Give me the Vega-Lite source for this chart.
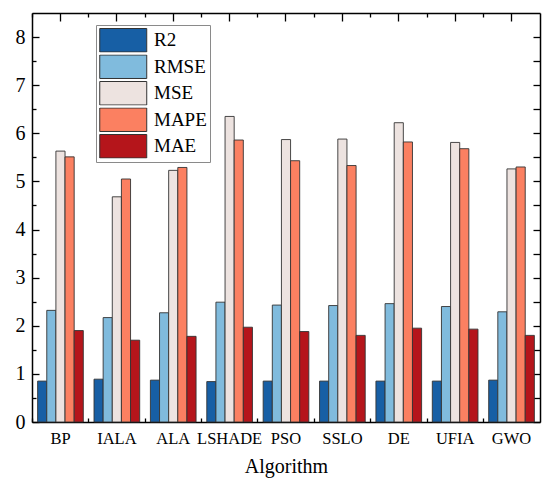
{
  "$schema": "https://vega.github.io/schema/vega-lite/v6.json",
  "width": 508,
  "height": 409,
  "autosize": {"type": "none"},
  "padding": {"left": 32, "top": 13, "right": 10, "bottom": 73},
  "background": "white",
  "config": {
    "view": {"stroke": null},
    "font": "Liberation Serif, serif",
    "axis": {"labelFont": "Liberation Serif, serif", "titleFont": "Liberation Serif, serif", "labelColor": "black", "titleColor": "black", "domainColor": "black", "tickColor": "black", "domainWidth": 1.5, "tickWidth": 1.3, "grid": false},
    "legend": {"labelFont": "Liberation Serif, serif"}
  },
  "data": {
    "values": [
      {"Algorithm": "BP", "Metric": "R2", "Value": 0.85},
      {"Algorithm": "BP", "Metric": "RMSE", "Value": 2.32},
      {"Algorithm": "BP", "Metric": "MSE", "Value": 5.63},
      {"Algorithm": "BP", "Metric": "MAPE", "Value": 5.51},
      {"Algorithm": "BP", "Metric": "MAE", "Value": 1.9},
      {"Algorithm": "IALA", "Metric": "R2", "Value": 0.89},
      {"Algorithm": "IALA", "Metric": "RMSE", "Value": 2.17},
      {"Algorithm": "IALA", "Metric": "MSE", "Value": 4.68},
      {"Algorithm": "IALA", "Metric": "MAPE", "Value": 5.05},
      {"Algorithm": "IALA", "Metric": "MAE", "Value": 1.7},
      {"Algorithm": "ALA", "Metric": "R2", "Value": 0.87},
      {"Algorithm": "ALA", "Metric": "RMSE", "Value": 2.27},
      {"Algorithm": "ALA", "Metric": "MSE", "Value": 5.23},
      {"Algorithm": "ALA", "Metric": "MAPE", "Value": 5.29},
      {"Algorithm": "ALA", "Metric": "MAE", "Value": 1.78},
      {"Algorithm": "LSHADE", "Metric": "R2", "Value": 0.84},
      {"Algorithm": "LSHADE", "Metric": "RMSE", "Value": 2.49},
      {"Algorithm": "LSHADE", "Metric": "MSE", "Value": 6.35},
      {"Algorithm": "LSHADE", "Metric": "MAPE", "Value": 5.86},
      {"Algorithm": "LSHADE", "Metric": "MAE", "Value": 1.97},
      {"Algorithm": "PSO", "Metric": "R2", "Value": 0.85},
      {"Algorithm": "PSO", "Metric": "RMSE", "Value": 2.43},
      {"Algorithm": "PSO", "Metric": "MSE", "Value": 5.87},
      {"Algorithm": "PSO", "Metric": "MAPE", "Value": 5.43},
      {"Algorithm": "PSO", "Metric": "MAE", "Value": 1.88},
      {"Algorithm": "SSLO", "Metric": "R2", "Value": 0.85},
      {"Algorithm": "SSLO", "Metric": "RMSE", "Value": 2.42},
      {"Algorithm": "SSLO", "Metric": "MSE", "Value": 5.88},
      {"Algorithm": "SSLO", "Metric": "MAPE", "Value": 5.33},
      {"Algorithm": "SSLO", "Metric": "MAE", "Value": 1.8},
      {"Algorithm": "DE", "Metric": "R2", "Value": 0.85},
      {"Algorithm": "DE", "Metric": "RMSE", "Value": 2.46},
      {"Algorithm": "DE", "Metric": "MSE", "Value": 6.22},
      {"Algorithm": "DE", "Metric": "MAPE", "Value": 5.82},
      {"Algorithm": "DE", "Metric": "MAE", "Value": 1.95},
      {"Algorithm": "UFIA", "Metric": "R2", "Value": 0.85},
      {"Algorithm": "UFIA", "Metric": "RMSE", "Value": 2.4},
      {"Algorithm": "UFIA", "Metric": "MSE", "Value": 5.81},
      {"Algorithm": "UFIA", "Metric": "MAPE", "Value": 5.68},
      {"Algorithm": "UFIA", "Metric": "MAE", "Value": 1.93},
      {"Algorithm": "GWO", "Metric": "R2", "Value": 0.87},
      {"Algorithm": "GWO", "Metric": "RMSE", "Value": 2.29},
      {"Algorithm": "GWO", "Metric": "MSE", "Value": 5.26},
      {"Algorithm": "GWO", "Metric": "MAPE", "Value": 5.3},
      {"Algorithm": "GWO", "Metric": "MAE", "Value": 1.8}
    ]
  },
  "layer": [
    {
      "mark": {"type": "bar", "stroke": "#333333", "strokeWidth": 0.9},
      "encoding": {
        "x": {
          "field": "Algorithm", "type": "nominal", "sort": null,
          "scale": {"paddingInner": 0.19, "paddingOuter": 0.1},
          "axis": {"orient": "bottom", "title": "Algorithm", "labelAngle": 0, "labelFontSize": 16.5, "titleFontSize": 20, "titleFontWeight": "normal", "tickSize": -8, "labelPadding": 16, "titlePadding": 10}
        },
        "xOffset": {"field": "Metric", "type": "nominal", "sort": ["R2", "RMSE", "MSE", "MAPE", "MAE"], "scale": {"paddingInner": 0, "paddingOuter": 0}},
        "y": {
          "field": "Value", "type": "quantitative",
          "scale": {"domain": [0, 8.5], "nice": false, "zero": true},
          "axis": {"orient": "left", "title": null, "values": [0, 0.5, 1, 1.5, 2, 2.5, 3, 3.5, 4, 4.5, 5, 5.5, 6, 6.5, 7, 7.5, 8], "labelExpr": "datum.value % 1 === 0 ? format(datum.value, 'd') : ''", "labelFontSize": 20, "tickSize": {"condition": {"test": "datum.value % 1 !== 0", "value": -4}, "value": -7}, "labelPadding": 14}
        },
        "color": {
          "field": "Metric", "type": "nominal", "sort": ["R2", "RMSE", "MSE", "MAPE", "MAE"],
          "scale": {"domain": ["R2", "RMSE", "MSE", "MAPE", "MAE"], "range": ["#175fa5", "#80bbdd", "#ede3e0", "#fb8061", "#b5151b"]},
          "legend": {
            "title": null, "orient": "none", "legendX": 64, "legendY": 12,
            "fillColor": "white", "strokeColor": "#8a8a8a", "padding": 3,
            "labelFontSize": 19, "labelColor": "black",
            "symbolType": "M-1,-1H3V1H-1Z", "symbolSize": 552, "symbolStrokeColor": "#333333", "symbolStrokeWidth": 1, "symbolOpacity": 1,
            "labelOffset": 30, "rowPadding": 1.5, "clipHeight": 24.5
          }
        }
      }
    },
    {
      "mark": {"type": "bar", "opacity": 0},
      "encoding": {
        "x": {"field": "Algorithm", "type": "nominal", "sort": null, "axis": {"orient": "top", "title": null, "labels": false, "tickSize": -8}},
        "xOffset": {"field": "Metric", "type": "nominal", "sort": ["R2", "RMSE", "MSE", "MAPE", "MAE"]},
        "y": {"field": "Value", "type": "quantitative", "axis": {"orient": "right", "title": null, "labels": false, "values": [0, 0.5, 1, 1.5, 2, 2.5, 3, 3.5, 4, 4.5, 5, 5.5, 6, 6.5, 7, 7.5, 8], "tickSize": -7}}
      }
    },
    {
      "mark": {"type": "bar", "opacity": 0},
      "encoding": {
        "x": {"field": "Algorithm", "type": "nominal", "sort": null, "axis": {"orient": "bottom", "title": null, "labels": false, "domain": false, "tickSize": -4, "bandPosition": -0.115}},
        "xOffset": {"field": "Metric", "type": "nominal", "sort": ["R2", "RMSE", "MSE", "MAPE", "MAE"]},
        "y": {"field": "Value", "type": "quantitative", "axis": null}
      }
    },
    {
      "mark": {"type": "bar", "opacity": 0},
      "encoding": {
        "x": {"field": "Algorithm", "type": "nominal", "sort": null, "axis": {"orient": "top", "title": null, "labels": false, "domain": false, "tickSize": -4, "bandPosition": -0.115}},
        "xOffset": {"field": "Metric", "type": "nominal", "sort": ["R2", "RMSE", "MSE", "MAPE", "MAE"]},
        "y": {"field": "Value", "type": "quantitative", "axis": null}
      }
    }
  ],
  "resolve": {"axis": {"x": "independent", "y": "independent"}}
}
